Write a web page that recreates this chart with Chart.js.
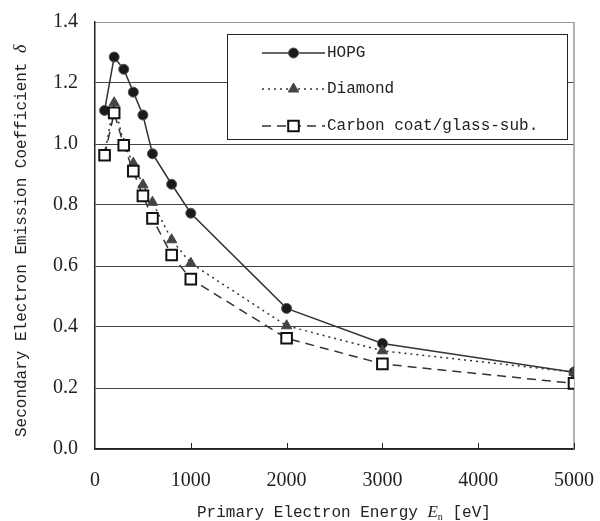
<!DOCTYPE html>
<html>
<head>
<meta charset="utf-8">
<script src="https://cdn.jsdelivr.net/npm/chart.js@4.4.1/dist/chart.umd.min.js"></script>
<style>
  html, body { margin: 0; padding: 0; background: #fff; }
  #wrap { position: relative; width: 600px; height: 521px; }
</style>
</head>
<body>
<div id="wrap"><canvas id="seeChart"></canvas></div>
<script>
// primary electron energy [eV]
const energy = [100, 200, 300, 400, 500, 600, 800, 1000, 2000, 3000, 5000];
const hopg    = [1.11, 1.285, 1.245, 1.17, 1.095, 0.968, 0.868, 0.773, 0.461, 0.346, 0.252];
const diamond = [0.965, 1.135, 1.0, 0.937, 0.866, 0.809, 0.686, 0.609, 0.404, 0.322, 0.252];
const carbon  = [0.963, 1.102, 0.996, 0.911, 0.830, 0.756, 0.636, 0.557, 0.363, 0.279, 0.215];
const xTicks = [0, 1000, 2000, 3000, 4000, 5000];
const yTicks = [0, 0.2, 0.4, 0.6, 0.8, 1.0, 1.2, 1.4];

const ink = "#222";
const clear = "rgba(0,0,0,0)";
const monoFont = "'Liberation Mono', 'DejaVu Sans Mono', monospace";
const tickFont = { family: "'Liberation Serif', serif", size: 20 };

const pts = ys => energy.map((x, i) => ({ x, y: ys[i] }));

// titles, inward ticks, right frame, boxed legend
const extras = {
  id: "extras",
  beforeDatasetsDraw(chart) {
    const { ctx, chartArea: a, scales } = chart;
    ctx.save();
    ctx.strokeStyle = "#999";
    ctx.lineWidth = 1.5;
    ctx.beginPath();
    ctx.moveTo(a.right, a.top);
    ctx.lineTo(a.right, a.bottom);
    ctx.stroke();
    ctx.strokeStyle = ink;
    ctx.lineWidth = 1;
    xTicks.slice(1).forEach(v => {
      const px = Math.round(scales.x.getPixelForValue(v)) + 0.5;
      ctx.beginPath();
      ctx.moveTo(px, a.bottom);
      ctx.lineTo(px, a.bottom - 6);
      ctx.stroke();
    });
    ctx.restore();
  },
  afterDraw(chart) {
    const { ctx } = chart;
    ctx.save();
    ctx.fillStyle = ink;
    ctx.textBaseline = "alphabetic";
    ctx.textAlign = "left";

    // x title
    let x = 197;
    const by = 517;
    ctx.font = "16px " + monoFont;
    const t1 = "Primary Electron Energy ";
    ctx.fillText(t1, x, by);
    x += ctx.measureText(t1).width;
    ctx.font = "italic 17px 'Liberation Serif', serif";
    ctx.fillText("E", x, by);
    x += ctx.measureText("E").width;
    ctx.font = "10px 'Liberation Serif', serif";
    ctx.fillText("n", x, by + 3);
    x += ctx.measureText("n").width;
    ctx.font = "16px " + monoFont;
    ctx.fillText(" [eV]", x, by);

    // y title
    ctx.save();
    ctx.translate(26, 437);
    ctx.rotate(-Math.PI / 2);
    ctx.font = "16px " + monoFont;
    const t2 = "Secondary Electron Emission Coefficient ";
    ctx.fillText(t2, 0, 0);
    const w2 = ctx.measureText(t2).width;
    ctx.font = "italic 18px 'Liberation Serif', serif";
    ctx.fillText("\u03b4", w2, 0);
    ctx.restore();

    // legend box
    const L = 227, T = 34, W = 340, H = 105;
    ctx.fillStyle = "#fff";
    ctx.fillRect(L, T, W, H);
    ctx.strokeStyle = ink;
    ctx.lineWidth = 1;
    ctx.strokeRect(L + 0.5, T + 0.5, W, H);
    const rows = [19, 55, 92];
    chart.data.datasets.forEach((ds, i) => {
      const y = T + rows[i];
      const x0 = L + 35, x1 = L + 98;
      ctx.strokeStyle = ds.borderColor;
      ctx.lineWidth = ds.borderWidth;
      ctx.setLineDash(ds.borderDash || []);
      ctx.beginPath();
      ctx.moveTo(x0, y);
      ctx.lineTo(x1, y);
      ctx.stroke();
      ctx.setLineDash([]);
      ctx.fillStyle = ds.pointBackgroundColor;
      ctx.strokeStyle = ds.pointBorderColor;
      ctx.lineWidth = ds.pointBorderWidth;
      Chart.helpers.drawPoint(ctx, {
        pointStyle: ds.pointStyle, radius: ds.pointRadius, rotation: 0, borderWidth: ds.pointBorderWidth
      }, (x0 + x1) / 2, y);
      ctx.fillStyle = ink;
      ctx.font = "16px " + monoFont;
      ctx.textBaseline = "middle";
      ctx.fillText(ds.label, x1 + 2, y);
    });
    ctx.restore();
  }
};

new Chart(document.getElementById("seeChart"), {
  type: "line",
  data: {
    datasets: [
      { label: "HOPG", data: pts(hopg), order: 3,
        borderColor: "#333", borderWidth: 1.5, pointStyle: "circle", pointRadius: 5,
        pointBackgroundColor: "#1a1a1a", pointBorderColor: "#555", pointBorderWidth: 1 },
      { label: "Diamond", data: pts(diamond), order: 2,
        borderColor: "#333", borderWidth: 1.5, borderDash: [2, 4], pointStyle: "triangle", pointRadius: 6,
        pointBackgroundColor: "#444", pointBorderColor: "#444", pointBorderWidth: 1 },
      { label: "Carbon coat/glass-sub.", data: pts(carbon), order: 1,
        borderColor: "#333", borderWidth: 1.5, borderDash: [9, 6], pointStyle: "rect", pointRadius: 7.5,
        pointBackgroundColor: "#fff", pointBorderColor: "#111", pointBorderWidth: 2 }
    ]
  },
  options: {
    responsive: true,
    maintainAspectRatio: false,
    animation: false,
    layout: { padding: { top: 22, right: 26, left: 0, bottom: 0 } },
    plugins: { legend: { display: false }, tooltip: { enabled: false } },
    scales: {
      x: {
        type: "linear", min: 0, max: 5000,
        afterBuildTicks: s => { s.ticks = xTicks.map(value => ({ value })); },
        afterFit: s => { s.height = 72; },
        ticks: { color: ink, font: tickFont, padding: 0, maxRotation: 0, callback: v => String(v) },
        grid: { display: true, drawOnChartArea: false, drawTicks: true, tickLength: 20, tickColor: clear },
        border: { color: ink, width: 1.5 }
      },
      y: {
        min: 0, max: 1.4,
        afterBuildTicks: s => { s.ticks = yTicks.map(value => ({ value })); },
        afterFit: s => { s.width = 95; },
        ticks: { color: ink, font: tickFont, padding: 0, callback: v => v.toFixed(1) },
        grid: {
          drawTicks: true, tickLength: 17, tickColor: clear, lineWidth: 1,
          color: c => (c.tick && c.tick.value > 1.39) ? "#999" : "#444"
        },
        border: { color: ink, width: 1.5 }
      }
    }
  },
  plugins: [extras]
});
</script>
</body>
</html>
